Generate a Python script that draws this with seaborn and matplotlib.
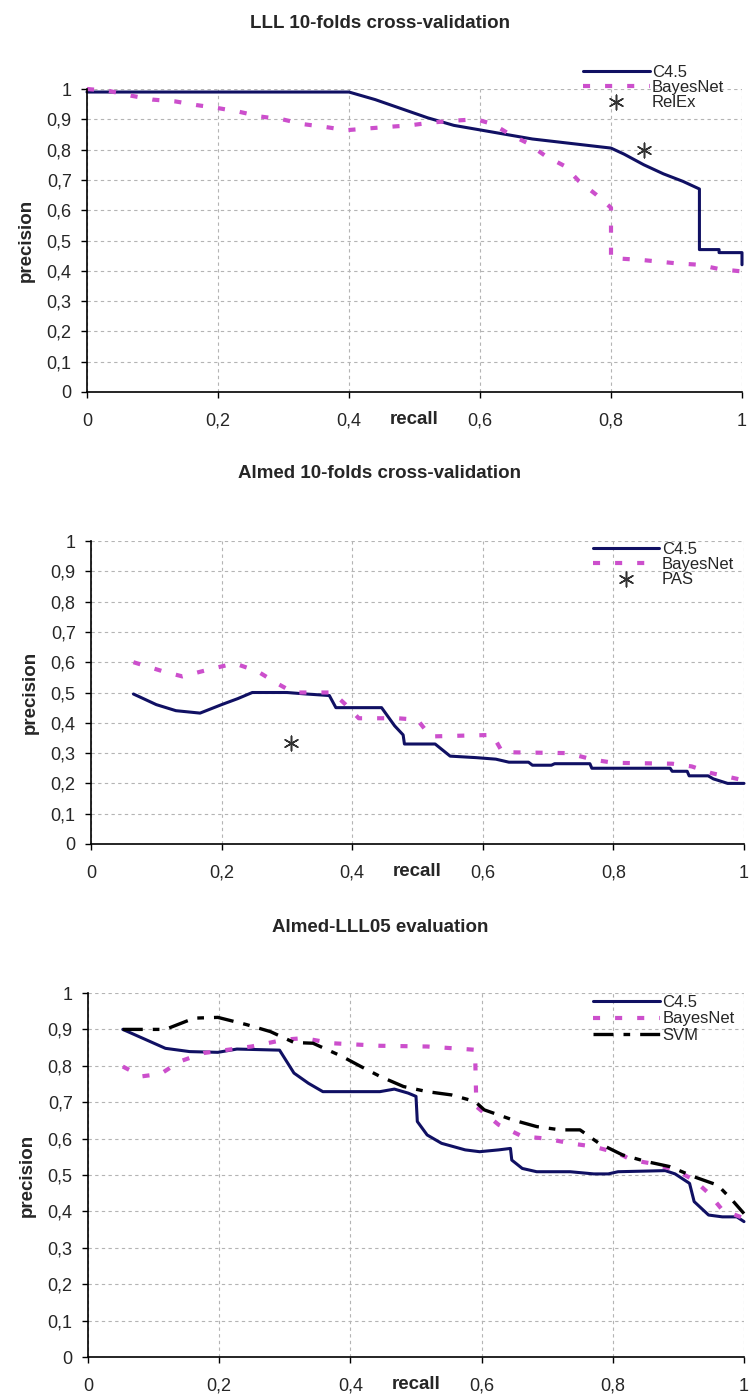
import matplotlib
matplotlib.use("Agg")
import matplotlib.pyplot as plt
import seaborn as sns

# tick labels (decimal comma as in the original)
x_ticks = [0, 0.2, 0.4, 0.6, 0.8, 1.0]
x_tick_labels = ["0", "0,2", "0,4", "0,6", "0,8", "1"]
y_ticks = [0, 0.1, 0.2, 0.3, 0.4, 0.5, 0.6, 0.7, 0.8, 0.9, 1.0]
y_tick_labels = ["0", "0,1", "0,2", "0,3", "0,4", "0,5", "0,6", "0,7", "0,8", "0,9", "1"]

titles = ["LLL 10-folds cross-validation",
          "Almed 10-folds cross-validation",
          "Almed-LLL05 evaluation"]

# panel 1: LLL 10-folds
lll_c45_r = [0.0, 0.40, 0.44, 0.48, 0.52, 0.56, 0.60, 0.64, 0.68, 0.72, 0.76, 0.80, 0.82,
             0.85, 0.88, 0.91, 0.935, 0.935, 0.965, 0.965, 1.0, 1.0]
lll_c45_p = [0.99, 0.99, 0.965, 0.935, 0.905, 0.88, 0.865, 0.85, 0.835, 0.825, 0.815, 0.805,
             0.785, 0.75, 0.72, 0.695, 0.67, 0.47, 0.47, 0.46, 0.46, 0.42]
lll_bayes_r = [0.0, 0.033, 0.067, 0.10, 0.135, 0.167, 0.20, 0.232, 0.265, 0.298, 0.33, 0.363,
               0.396, 0.43, 0.46, 0.493, 0.525, 0.557, 0.594, 0.62, 0.645, 0.671, 0.70, 0.729,
               0.751, 0.777, 0.80, 0.80, 0.846, 0.898, 0.934, 0.967, 1.0]
lll_bayes_p = [1.0, 0.994, 0.978, 0.965, 0.959, 0.947, 0.937, 0.925, 0.909, 0.90, 0.884, 0.875,
               0.864, 0.87, 0.875, 0.88, 0.889, 0.895, 0.90, 0.884, 0.851, 0.823, 0.779, 0.746,
               0.696, 0.652, 0.608, 0.442, 0.436, 0.425, 0.42, 0.405, 0.398]
relex_r = [0.85]
relex_p = [0.80]

# panel 2: Almed 10-folds
almed_c45_r = [0.065, 0.10, 0.13, 0.167, 0.20, 0.225, 0.247, 0.30, 0.33, 0.365, 0.375, 0.445,
               0.465, 0.478, 0.48, 0.527, 0.55, 0.59, 0.62, 0.64, 0.67, 0.676, 0.705, 0.71,
               0.764, 0.767, 0.887, 0.89, 0.913, 0.916, 0.945, 0.953, 0.975, 1.0]
almed_c45_p = [0.495, 0.46, 0.44, 0.432, 0.46, 0.48, 0.50, 0.50, 0.495, 0.49, 0.45, 0.45,
               0.39, 0.36, 0.33, 0.33, 0.29, 0.285, 0.28, 0.27, 0.27, 0.26, 0.26, 0.265,
               0.265, 0.25, 0.25, 0.24, 0.24, 0.225, 0.225, 0.215, 0.2, 0.2]
almed_bayes_r = [0.065, 0.11, 0.14, 0.17, 0.20, 0.22, 0.255, 0.285, 0.31, 0.37, 0.39, 0.41,
                 0.47, 0.50, 0.52, 0.615, 0.63, 0.73, 0.77, 0.80, 0.89, 0.92, 0.95, 1.0]
almed_bayes_p = [0.60, 0.57, 0.553, 0.57, 0.586, 0.596, 0.57, 0.53, 0.50, 0.50, 0.46, 0.415,
                 0.415, 0.41, 0.355, 0.36, 0.303, 0.30, 0.278, 0.268, 0.265, 0.256, 0.234, 0.21]
pas_r = [0.307]
pas_p = [0.333]

# panel 3: Almed-LLL05 evaluation
eval_c45_r = [0.053, 0.118, 0.155, 0.198, 0.227, 0.292, 0.314, 0.336, 0.358, 0.445, 0.467,
              0.488, 0.50, 0.502, 0.517, 0.539, 0.575, 0.597, 0.626, 0.644, 0.646, 0.662,
              0.684, 0.735, 0.771, 0.793, 0.808, 0.88, 0.895, 0.917, 0.924, 0.946, 0.967,
              0.989, 1.0]
eval_c45_p = [0.90, 0.848, 0.839, 0.837, 0.846, 0.843, 0.78, 0.752, 0.729, 0.729, 0.736,
              0.725, 0.716, 0.647, 0.61, 0.587, 0.569, 0.564, 0.569, 0.573, 0.541, 0.518,
              0.509, 0.509, 0.503, 0.503, 0.509, 0.512, 0.503, 0.477, 0.427, 0.39, 0.385,
              0.385, 0.372]
eval_bayes_r = [0.053, 0.082, 0.111, 0.14, 0.176, 0.213, 0.249, 0.30, 0.329, 0.372, 0.445,
                0.517, 0.59, 0.592, 0.626, 0.662, 0.699, 0.735, 0.771, 0.808, 0.829, 0.858,
                0.895, 0.924, 0.946, 0.967, 1.0]
eval_bayes_p = [0.798, 0.771, 0.778, 0.812, 0.835, 0.844, 0.853, 0.872, 0.876, 0.862, 0.855,
                0.853, 0.844, 0.688, 0.638, 0.606, 0.60, 0.587, 0.578, 0.56, 0.541, 0.532,
                0.514, 0.486, 0.45, 0.404, 0.381]
eval_svm_r = [0.053, 0.118, 0.162, 0.198, 0.242, 0.278, 0.314, 0.343, 0.387, 0.416, 0.445,
              0.481, 0.517, 0.554, 0.59, 0.604, 0.648, 0.684, 0.72, 0.75, 0.779, 0.815,
              0.851, 0.887, 0.924, 0.96, 0.982, 1.0]
eval_svm_p = [0.90, 0.90, 0.931, 0.933, 0.913, 0.894, 0.864, 0.862, 0.826, 0.798, 0.771,
              0.743, 0.729, 0.72, 0.702, 0.679, 0.651, 0.633, 0.624, 0.624, 0.587, 0.555,
              0.537, 0.523, 0.495, 0.472, 0.431, 0.394]

sns.set_style("white")
plt.rcParams['font.family'] = ['Liberation Sans', 'DejaVu Sans']

navy = "#101063"
pink = "#cc4fcc"
bayes_ls = (0, (1.7, 3.6))
svm_ls = (0, (6, 3, 2, 3))

fig = plt.figure(figsize=(7.51, 13.98), dpi=100)
H = 1398.0
W = 751.0

# axes rectangles from pixel positions (left, right, top, bottom)
rects = [(87, 742, 89, 392), (91, 744, 541, 844), (88, 744, 993, 1357)]
title_ys = [23, 474, 928]
leg_pos = [(0.757, 1.08, 0.0), (0.768, 0.998, 0.0), (0.77, 0.995, 0.1)]

axes = []
for (l, r, t, b) in rects:
    ax = fig.add_axes([l / W, 1 - b / H, (r - l) / W, (b - t) / H])
    axes.append(ax)


def plot_line(ax, xs, ys, label, color, ls, lw):
    sns.lineplot(x=xs, y=ys, ax=ax, sort=False, estimator=None, color=color,
                 linewidth=lw, linestyle=ls, label=label, clip_on=False)


def plot_star(ax, xs, ys, label):
    sns.scatterplot(x=xs, y=ys, ax=ax, marker=(6, 2, 0), s=110, color="#333333",
                    linewidth=1.1, label=label, clip_on=False)


ax1, ax2, ax3 = axes
plot_line(ax1, lll_c45_r, lll_c45_p, "C4.5", navy, "-", 2.2)
plot_line(ax1, lll_bayes_r, lll_bayes_p, "BayesNet", pink, bayes_ls, 3)
plot_star(ax1, relex_r, relex_p, "RelEx")

plot_line(ax2, almed_c45_r, almed_c45_p, "C4.5", navy, "-", 2.2)
plot_line(ax2, almed_bayes_r, almed_bayes_p, "BayesNet", pink, bayes_ls, 3)
plot_star(ax2, pas_r, pas_p, "PAS")

plot_line(ax3, eval_c45_r, eval_c45_p, "C4.5", navy, "-", 2.2)
plot_line(ax3, eval_bayes_r, eval_bayes_p, "BayesNet", pink, bayes_ls, 3)
plot_line(ax3, eval_svm_r, eval_svm_p, "SVM", "black", svm_ls, 2.4)

for i, ax in enumerate(axes):
    ax.set_xlim(0, 1)
    ax.set_ylim(0, 1)
    ax.set_xticks(x_ticks)
    ax.set_xticklabels(x_tick_labels)
    ax.set_yticks(y_ticks)
    ax.set_yticklabels(y_tick_labels)
    ax.set_xlabel("")
    ax.set_ylabel("")
    ax.set_axisbelow(True)
    ax.grid(True, color="#b4b4b4", linestyle=(0, (3, 3)), linewidth=0.8)
    for side in ["top", "right"]:
        ax.spines[side].set_visible(False)
    for side in ["left", "bottom"]:
        ax.spines[side].set_color("black")
        ax.spines[side].set_linewidth(1.2)
    ax.tick_params(axis="both", direction="out", length=4, width=1, color="black",
                   labelsize=13, bottom=True, left=True)
    ax.tick_params(axis="x", pad=11)
    ax.tick_params(axis="y", pad=7)

    ax.annotate("recall", xy=(0.5, 0), xycoords="axes fraction", xytext=(0, -20),
                textcoords="offset points", ha="center", va="center",
                fontsize=13.5, fontweight="bold")
    ax.text(-0.093, 0.5, "precision", transform=ax.transAxes, rotation=90,
            ha="center", va="center", fontsize=13.5, fontweight="bold")

    lx, ly, lsp = leg_pos[i]
    handles, labels = ax.get_legend_handles_labels()
    ax.legend(handles, labels, loc="upper left", bbox_to_anchor=(lx, ly), frameon=False,
              fontsize=12, handlelength=4.0, handletextpad=0.15, labelspacing=lsp,
              borderpad=0, borderaxespad=0)

    fig.text(380 / W, 1 - title_ys[i] / H, titles[i], ha="center", va="center",
             fontsize=13.5, fontweight="bold")

fig.savefig("out.png", dpi=100)
